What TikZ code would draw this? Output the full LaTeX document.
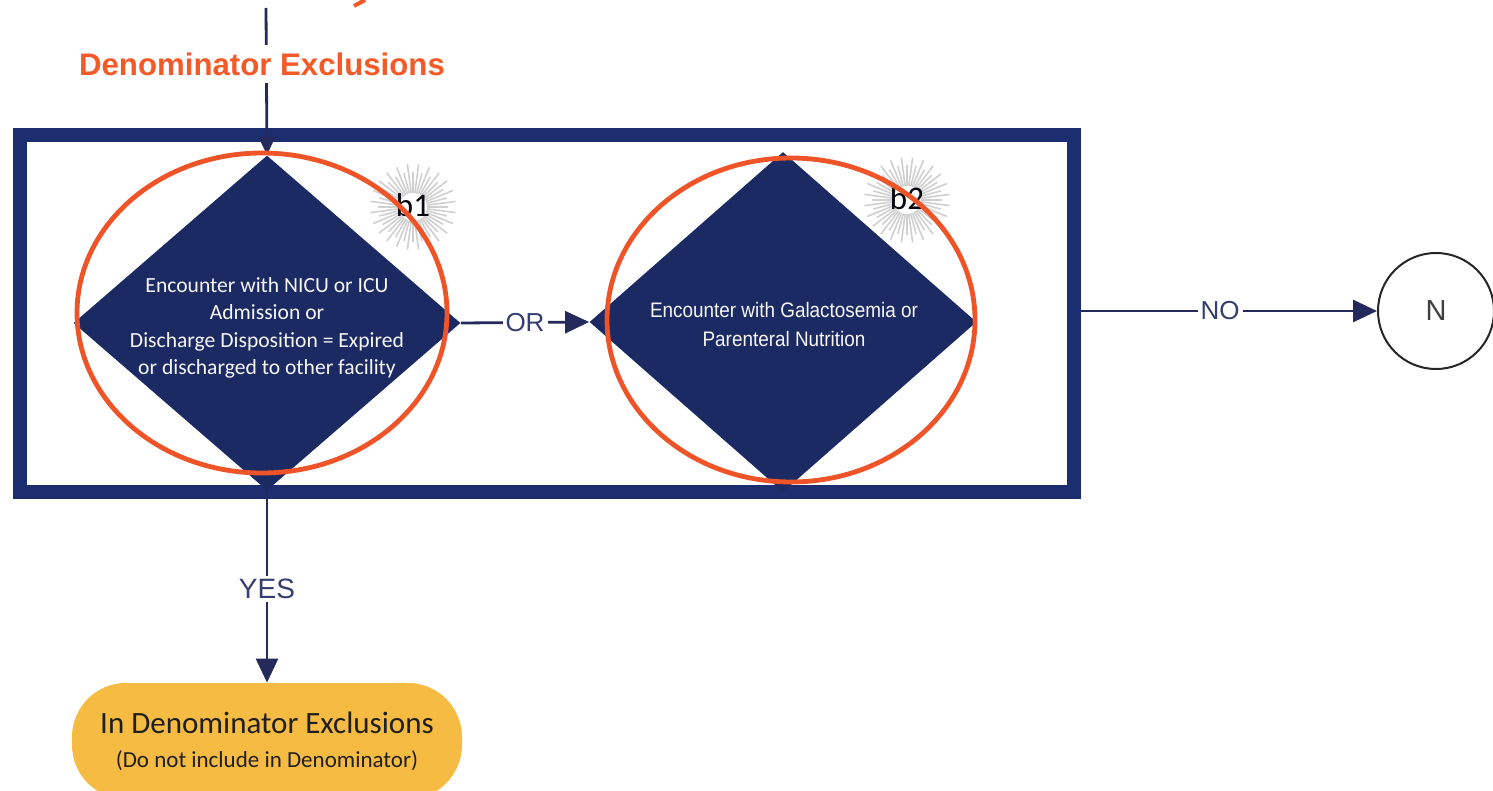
\documentclass[tikz,border=0pt]{standalone}
\usepackage{fontspec}
\setmainfont{Carlito}
\newfontfamily\arial{Liberation Sans}
\newfontfamily\arialnarrow{Liberation Sans}[FakeStretch=0.9]
\usetikzlibrary{shapes.geometric,arrows.meta,calc}

\definecolor{navyfill}{RGB}{28,42,100}
\definecolor{framenavy}{RGB}{28,45,112}
\definecolor{linenavy}{RGB}{36,42,92}
\definecolor{labelnavy}{RGB}{52,62,112}
\definecolor{ringred}{RGB}{238,84,40}
\definecolor{titleorange}{RGB}{244,90,40}
\definecolor{termyellow}{RGB}{246,187,66}
\definecolor{rays}{RGB}{208,208,208}

\begin{document}
\begin{tikzpicture}[x=0.5pt,y=-0.5pt,
  decision/.style={diamond, fill=navyfill, draw=none, inner sep=0pt,
    minimum width=193.5pt, minimum height=167.5pt},
  dtext/.style={text=white!94!gray, align=center, inner sep=0pt},
  flow/.style={draw=linenavy, line width=1.4pt,
    -{Triangle[length=12pt,width=11pt]}},
  flowlabel/.style={fill=white, text=labelnavy, inner sep=1.5pt,
    font=\arial\fontsize{13}{15}\selectfont},
  ring/.style={draw=ringred, line width=2.4pt},
  badge/.style={text=black!85!navyfill, font=\fontsize{16.5}{18}\selectfont, inner sep=0pt}
]
\useasboundingbox (0,0) rectangle (1493,791);
\fill[white] (0,0) rectangle (1493,791);

% tail of the heading above
\draw[titleorange, line width=2pt] (354,6) -- (365,0);

% frame round the exclusion tests
\node[draw=framenavy, line width=7pt, minimum width=527pt, minimum height=178.5pt,
  inner sep=0pt] (box) at (547,313.5) {};

% decisions
\node[decision] (d1) at (267,323) {};
\node[dtext, font=\fontsize{10.8}{13.7}\selectfont] (d1txt) at (267,328)
  {Encounter with NICU or ICU\\Admission or\\Discharge Disposition = Expired\\or discharged to other facility};
\node[decision, minimum width=193.5pt, minimum height=170pt] (d2) at (783,322) {};
\node[dtext, font=\arialnarrow\fontsize{10.5}{14.5}\selectfont] (d2txt) at (784,324)
  {Encounter with Galactosemia or\\Parenteral Nutrition};

% starburst badges
\coordinate (burstA) at (413,207);
\coordinate (burstB) at (907,200);
\foreach \cc/\t in {burstA/b1, burstB/b2}{
  \foreach \a [count=\i] in {0,7.5,...,352.5}{
    \pgfmathsetmacro\rr{mod(\i,2)==0 ? 21.5 : 17.5}
    \draw[rays, line width=0.8pt] ($(\cc)+(\a:7pt)$) -- ($(\cc)+(\a:\rr pt)$);
  }
  \node[badge] (label-\t) at ([yshift=1pt]\cc) {\t};
}

% incoming flow and heading
\coordinate (top) at (266,8);
\draw[flow, -{Triangle[length=9pt,width=8pt]}] (top) -- (d1.north);
\node[fill=white, text=titleorange, inner sep=4pt,
  font=\arial\bfseries\fontsize{15.6}{17}\selectfont] (title) at (262,64) {Denominator Exclusions};

% outcome nodes
\node[circle, draw=black!85, line width=1pt, minimum size=58pt, inner sep=0pt,
  text=black!75, font=\arial\fontsize{14.5}{16}\selectfont] (n) at (1436,311) {N};
\node[fill=termyellow, rounded corners=27pt, minimum width=195pt, minimum height=58pt,
  inner sep=0pt, align=center, text=black!88] (term) at (267,741)
  {{\fontsize{15.5}{17}\selectfont In Denominator Exclusions}\\[5pt]
   {\fontsize{11.5}{13}\selectfont (Do not include in Denominator)}};

% connectors
\draw[flow] (d1.east) -- node[flowlabel] (orlbl) {OR} (d2.west);
\draw[flow] (n.west -| box.east) -- node[flowlabel, pos=0.47] (nolbl) {NO} (n.west);
\draw[flow] (d1.south) -- node[flowlabel, pos=0.51, font=\arial\fontsize{14}{16}\selectfont] (yeslbl) {YES} (term.north);

% highlight rings
\draw[ring] (262,313) ellipse [x radius=92.5pt, y radius=80pt];
\draw[ring] (791,320) ellipse [x radius=92pt, y radius=81pt];
\end{tikzpicture}
\end{document}
